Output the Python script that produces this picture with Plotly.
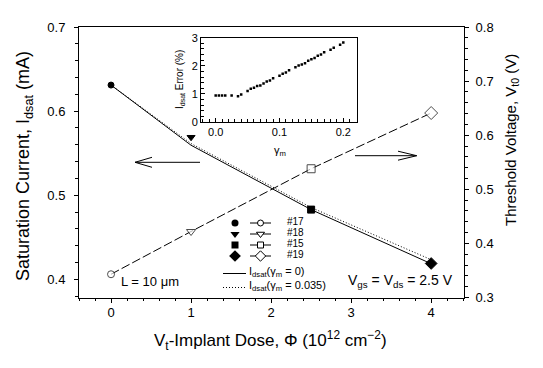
import plotly.graph_objects as go

# The page body adds an 8 px margin, so the figure is drawn 8 px smaller and
# all layout positions below are given in window pixels, shifted by OFF.
WIN_W, WIN_H = 543, 368
OFF = 8
W, H = WIN_W - OFF, WIN_H - OFF

# ---------------- data ----------------
dose = [0, 1, 2.5, 4]                      # 10^12 cm^-2
device = ["#17", "#18", "#15", "#19"]
idsat_meas = [0.631, 0.569, 0.483, 0.419]  # mA (filled symbols, left axis)
vt0_meas = [0.343, 0.422, 0.538, 0.641]    # V  (open symbols, right axis)
idsat_g0 = [0.631, 0.5595, 0.483, 0.4187]  # model, gamma_m = 0
idsat_g035 = [0.631, 0.5615, 0.4855, 0.4235]  # model, gamma_m = 0.035
symbols = ["circle", "triangle-down", "square", "diamond"]

gamma_m = [0.0, 0.005, 0.01, 0.015, 0.025, 0.035, 0.04, 0.05, 0.055, 0.06,
           0.065, 0.07, 0.075, 0.08, 0.085, 0.09, 0.1, 0.105, 0.11, 0.115,
           0.125, 0.13, 0.135, 0.14, 0.145, 0.15, 0.155, 0.16, 0.165, 0.17,
           0.18, 0.185, 0.195, 0.2]
err_pct = [0.94, 0.94, 0.94, 0.94, 0.94, 0.92, 0.98, 1.10, 1.18, 1.22,
           1.28, 1.30, 1.37, 1.44, 1.48, 1.56, 1.65, 1.72, 1.76, 1.84,
           1.95, 2.01, 2.05, 2.09, 2.18, 2.23, 2.28, 2.36, 2.40, 2.48,
           2.57, 2.64, 2.75, 2.83]

FONT = "Liberation Sans, Arial, sans-serif"


def px(x):
    return (x - OFF) / W


def py(y):
    return 1 - (y - OFF) / H


fig = go.Figure()

# model lines (left axis)
fig.add_trace(go.Scatter(x=dose, y=idsat_g0, mode="lines",
                         line=dict(color="black", width=1), showlegend=False))
fig.add_trace(go.Scatter(x=dose, y=idsat_g035, mode="lines",
                         line=dict(color="black", width=1, dash="1px,2px"),
                         showlegend=False))
# threshold voltage (right axis)
fig.add_trace(go.Scatter(x=dose, y=vt0_meas, mode="lines", yaxis="y2",
                         line=dict(color="black", width=1, dash="9px,3px"),
                         showlegend=False))
fig.add_trace(go.Scatter(x=dose, y=vt0_meas, mode="markers", yaxis="y2",
                         marker=dict(symbol=symbols, size=[7, 8, 8, 10], color="white",
                                     line=dict(color="black", width=1)),
                         showlegend=False))
# measured saturation current
fig.add_trace(go.Scatter(x=dose, y=idsat_meas, mode="markers",
                         marker=dict(symbol=symbols, size=[6, 7, 7, 9], color="black",
                                     opacity=1, line=dict(color="black", width=1)),
                         showlegend=False))
# inset
fig.add_trace(go.Scatter(x=gamma_m, y=err_pct, mode="markers", xaxis="x3", yaxis="y3",
                         marker=dict(symbol="square", size=2.5, color="black",
                                     line=dict(width=0)),
                         showlegend=False))

# ---------------- hand-made legend (window-pixel overlay axes) ----------------
leg_rows = [223, 234, 245, 256]
leg_fill_x = 235
leg_open_x0, leg_open_x1 = 250, 271
for i, sym in enumerate(symbols):
    yy = leg_rows[i]
    fig.add_trace(go.Scatter(x=[leg_fill_x], y=[yy], mode="markers", xaxis="x4", yaxis="y4",
                             marker=dict(symbol=sym, size=[7, 8, 7, 9][i], color="black",
                                         line=dict(width=0)),
                             showlegend=False, cliponaxis=False))
    fig.add_trace(go.Scatter(x=[leg_open_x0, leg_open_x1], y=[yy, yy], mode="lines",
                             xaxis="x4", yaxis="y4", line=dict(color="black", width=1),
                             showlegend=False, cliponaxis=False))
    fig.add_trace(go.Scatter(x=[(leg_open_x0 + leg_open_x1) / 2], y=[yy], mode="markers",
                             xaxis="x4", yaxis="y4",
                             marker=dict(symbol=sym, size=[6, 7, 6, 8][i], color="white",
                                         line=dict(color="black", width=1)),
                             showlegend=False, cliponaxis=False))
fig.add_trace(go.Scatter(x=[223, 246], y=[273.5, 273.5], mode="lines", xaxis="x4", yaxis="y4",
                         line=dict(color="black", width=1), showlegend=False, cliponaxis=False))
fig.add_trace(go.Scatter(x=[223, 246], y=[287.5, 287.5], mode="lines", xaxis="x4", yaxis="y4",
                         line=dict(color="black", width=1, dash="1px,2px"),
                         showlegend=False, cliponaxis=False))

annotations = []


def text(t, x, y, size, xanchor="center", yanchor="middle", angle=0):
    annotations.append(dict(text=t, x=px(x), y=py(y), xref="paper", yref="paper",
                            showarrow=False, xanchor=xanchor, yanchor=yanchor, borderpad=0,
                            textangle=angle, font=dict(family=FONT, size=size, color="black")))


for i, name in enumerate(device):
    text(name, 286, leg_rows[i] - 1.5, 10, xanchor="left")
text("I<sub>dsat</sub>(γ<sub>m</sub> = 0)", 248, 271.5, 11, xanchor="left")
text("I<sub>dsat</sub>(γ<sub>m</sub> = 0.035)", 248, 285.5, 11, xanchor="left")

# axis titles
text("Saturation Current, I<sub>dsat</sub> (mA)", 24, 166, 18, angle=-90)
text("Threshold Voltage, V<sub>t0</sub> (V)", 511, 140, 15, angle=-90)
text("V<sub>t</sub>-Implant Dose, Φ (10<sup>12</sup> cm<sup>−2</sup>)", 270, 340, 17)
text("I<sub>dsat</sub> Error (%)", 180, 80, 10, angle=-90)
text("γ<sub>m</sub>", 280, 151, 11)
text("L = 10 μm", 150, 281, 13)
text("V<sub>gs</sub> = V<sub>ds</sub> = 2.5 V", 400, 281, 14)

# arrows (shaft + two barbs)
shapes = []


def seg(x0, y0, x1, y1):
    shapes.append(dict(type="line", xref="paper", yref="paper", x0=px(x0), y0=py(y0),
                       x1=px(x1), y1=py(y1), line=dict(color="black", width=1)))


seg(200, 162.3, 135, 162.3)
seg(135, 162.3, 152, 157.3)
seg(135, 162.3, 152, 167.3)
seg(355, 155.7, 416.7, 155.7)
seg(416.7, 155.7, 398, 151.2)
seg(416.7, 155.7, 398, 160.2)

axis_common = dict(showline=True, linecolor="black", linewidth=1, showgrid=False,
                   zeroline=False, tickcolor="black", tickwidth=1, automargin=False,
                   tickfont=dict(family=FONT, size=13, color="black"))
inset_common = {**axis_common, "tickfont": dict(family=FONT, size=11, color="black")}

fig.update_layout(
    width=W, height=H,
    margin=dict(l=0, r=0, t=0, b=0, autoexpand=False),
    paper_bgcolor="white", plot_bgcolor="rgba(0,0,0,0)",
    showlegend=False,
    xaxis=dict(domain=[px(79), px(464)], range=[-0.4, 4.41], anchor="y", mirror=True,
               ticks="outside", ticklen=4, dtick=1, tick0=0, ticklabelstandoff=-1,
               minor=dict(dtick=0.2, tick0=0, ticks="outside", ticklen=2, tickcolor="black"),
               **axis_common),
    yaxis=dict(domain=[py(297.5), py(27)], range=[0.37857, 0.7], anchor="x", mirror=True,
               ticks="outside", ticklen=4, dtick=0.1, tick0=0.4, tickformat=".1f",
               ticklabelstandoff=6,
               minor=dict(dtick=0.02, tick0=0.4, ticks="outside", ticklen=3, tickcolor="black"),
               **axis_common),
    yaxis2=dict(overlaying="y", side="right", anchor="x", range=[0.3, 0.8],
                ticks="outside", ticklen=4, dtick=0.1, tick0=0.3, tickformat=".1f",
                ticklabelstandoff=4,
                minor=dict(dtick=0.02, tick0=0.3, ticks="outside", ticklen=3, tickcolor="black"),
                **axis_common),
    xaxis3=dict(domain=[px(201), px(356.7)], anchor="y3", range=[-0.023, 0.221], mirror=True,
                ticks="inside", ticklen=4, dtick=0.1, tick0=0, tickformat=".1f",
                minor=dict(dtick=0.01, tick0=0, ticks="inside", ticklen=3, tickcolor="black"),
                **inset_common),
    yaxis3=dict(domain=[py(122), py(37.7)], anchor="x3", range=[0, 3], mirror=True,
                ticks="inside", ticklen=4, dtick=1, tick0=0,
                minor=dict(dtick=0.2, tick0=0, ticks="inside", ticklen=3, tickcolor="black"),
                **inset_common),
    xaxis4=dict(domain=[0, 1], range=[OFF, WIN_W], anchor="y4", visible=False,
                fixedrange=True, automargin=False),
    yaxis4=dict(domain=[0, 1], range=[WIN_H, OFF], anchor="x4", visible=False,
                fixedrange=True, automargin=False),
    annotations=annotations,
    shapes=shapes,
)

fig.write_html("out.html")
